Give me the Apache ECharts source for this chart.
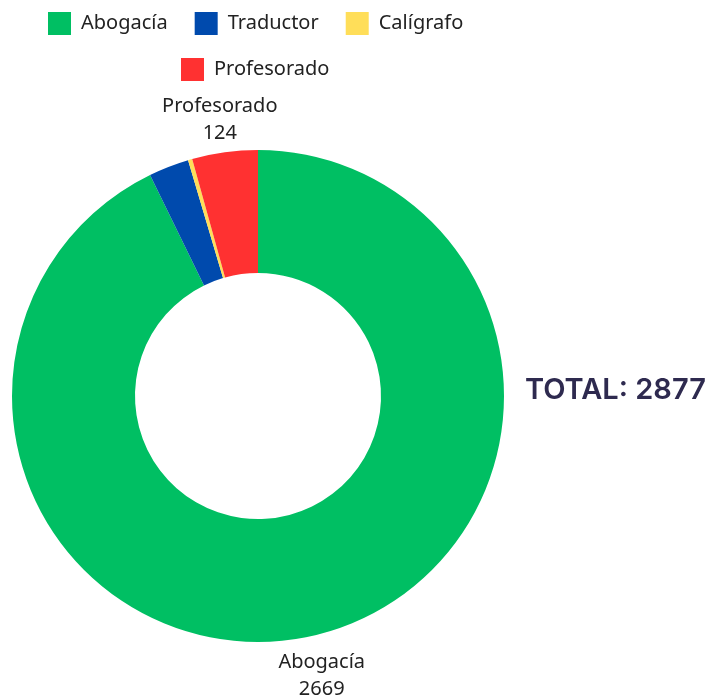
<!DOCTYPE html>
<html>
<head>
<meta charset="utf-8">
<script src="https://cdn.jsdelivr.net/npm/echarts@6/dist/echarts.min.js"></script>
<style>html,body{margin:0;padding:0;background:#fff;}#c{width:708px;height:700px;}</style>
</head>
<body>
<div id="c"></div>
<script>
var categories = ['Abogacía', 'Traductor', 'Calígrafo', 'Profesorado'];
var values = [2669, 76, 8, 124];
var colors = ['#00BF63', '#004AAD', '#FFDE59', '#FF3131'];
var totalLabel = 'TOTAL: 2877';

var chart = echarts.init(document.getElementById('c'));
var mainData = categories.map(function (n, i) {
  return { name: n, value: values[i], itemStyle: { color: colors[i] } };
});
var labelData = categories.map(function (n, i) {
  return { name: n, value: values[i] };
});
var font = 'Noto Sans';
chart.setOption({
  animation: false,
  title: {
    text: totalLabel,
    left: 520,
    top: 371,
    textStyle: { fontFamily: 'Inter', fontSize: 29, fontWeight: 600, color: '#2E2A4F' }
  },
  legend: [{
    data: categories.slice(0, 3),
    left: 48, top: 12, padding: 0,
    itemWidth: 23, itemHeight: 23, itemGap: 27,
    icon: 'rect',
    textStyle: { fontFamily: font, fontSize: 20, color: '#222', padding: [0, 0, 0, 5] }
  }, {
    data: categories.slice(3),
    left: 181, top: 58, padding: 0,
    itemWidth: 23, itemHeight: 23,
    icon: 'rect',
    textStyle: { fontFamily: font, fontSize: 20, color: '#222', padding: [0, 0, 0, 5] }
  }],
  series: [{
    type: 'pie',
    center: [258, 396],
    radius: [123, 246],
    startAngle: 90,
    label: { show: false },
    labelLine: { show: false },
    emphasis: { scale: false },
    data: mainData
  }, {
    type: 'pie',
    center: [258, 396],
    radius: [270, 290],
    startAngle: 90,
    silent: true,
    itemStyle: { color: 'rgba(0,0,0,0)' },
    label: {
      show: true,
      position: 'inside',
      formatter: '{b}\n{c}',
      fontFamily: font,
      fontSize: 20,
      lineHeight: 27,
      offset: [0, 4],
      color: '#222'
    },
    labelLine: { show: false },
    labelLayout: { hideOverlap: true },
    emphasis: { disabled: true },
    data: labelData
  }]
});
</script>
</body>
</html>
